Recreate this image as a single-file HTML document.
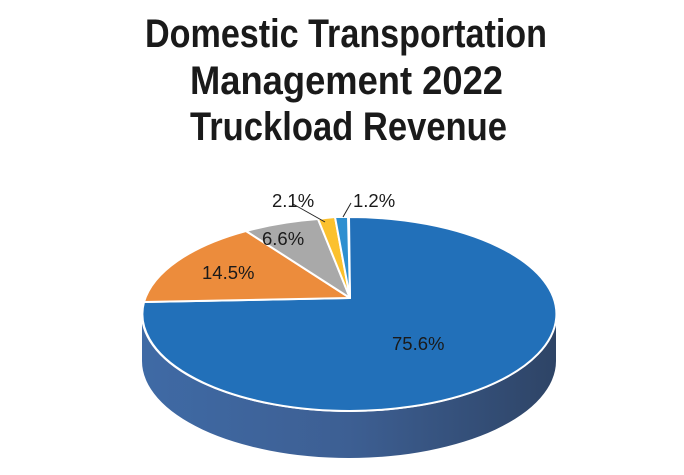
<!DOCTYPE html>
<html><head><meta charset="utf-8"><style>
html,body{margin:0;padding:0;background:#fff;}
svg{display:block;}
</style></head><body>
<svg width="684" height="475" viewBox="0 0 684 475" xmlns="http://www.w3.org/2000/svg">
<defs>
<linearGradient id="side" x1="0" x2="1" y1="0" y2="0">
<stop offset="0" stop-color="#3f6aa5"/>
<stop offset="0.5" stop-color="#3d5f93"/>
<stop offset="1" stop-color="#2e4466"/>
</linearGradient>
</defs>
<g font-family="'Liberation Sans Narrow','Liberation Sans',sans-serif" font-weight="bold" font-size="40" fill="#1a1a1a">
<text x="145" y="47" textLength="402" lengthAdjust="spacingAndGlyphs">Domestic Transportation</text>
<text x="190" y="94" textLength="313" lengthAdjust="spacingAndGlyphs">Management 2022</text>
<text x="190" y="140" textLength="317" lengthAdjust="spacingAndGlyphs">Truckload Revenue</text>
</g>
<path d="M142,314 A207,97 0 0 0 556,314 L556,361 A207,97 0 0 1 142,361 Z" fill="url(#side)"/>
<path d="M142,314 A207,97 0 0 0 556,314" fill="none" stroke="#fff" stroke-width="2"/>
<g stroke="#fff" stroke-width="2" stroke-linejoin="round">
<path d="M350,298 L349,217 A207,97 0 1 1 144,302 Z" fill="#2270b9"/>
<path d="M350,298 L144,302 A207,97 0 0 1 246,231 Z" fill="#ec8c3c"/>
<path d="M350,298 L246,231 A207,97 0 0 1 318,219 Z" fill="#a9a9a9"/>
<path d="M350,298 L318,219 A207,97 0 0 1 335,217 Z" fill="#fbc12e"/>
<path d="M350,298 L335,217 A207,97 0 0 1 348,217 Z" fill="#2d8fd0"/>
</g>
<g stroke="#222" stroke-width="1" fill="none">
<path d="M293,204 L325,222"/>
<path d="M351,203 L343,217"/>
</g>
<g font-family="'Liberation Sans',sans-serif" font-size="18.5" fill="#1a1a1a">
<text x="272" y="207">2.1%</text>
<text x="353" y="207">1.2%</text>
<text x="262" y="245">6.6%</text>
<text x="202" y="279">14.5%</text>
<text x="392" y="350">75.6%</text>
</g>
</svg>
</body></html>
